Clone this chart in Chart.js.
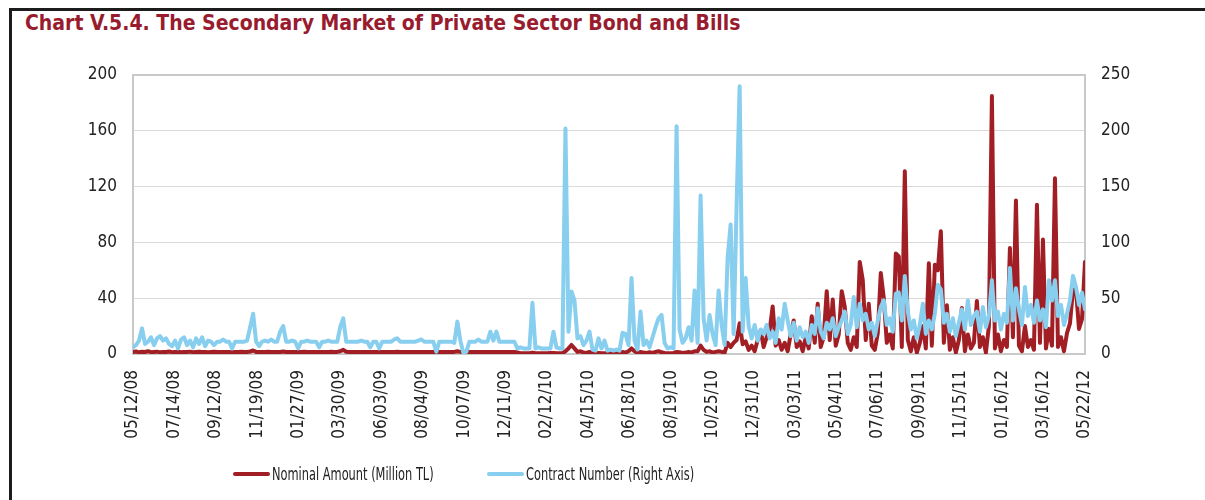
<!DOCTYPE html>
<html>
<head>
<meta charset="utf-8">
<title>Secondary Market of Private Sector Bond and Bills</title>
<script src="https://cdn.jsdelivr.net/npm/chart.js@4.4.1/dist/chart.umd.min.js"></script>
<style>
  html, body { margin: 0; padding: 0; background: #fff; }
  #page { position: relative; width: 1205px; height: 500px; overflow: hidden; }
  #frame {
    position: absolute; left: 9px; top: 8px; right: -10px; bottom: -10px;
    border-top: 3px solid #1c1c1c; border-left: 3px solid #1c1c1c;
  }
  #title {
    position: absolute; left: 25px; top: 11px; white-space: nowrap;
    font: bold 21px "DejaVu Sans Condensed", "DejaVu Sans", sans-serif;
    color: #981b2e;
  }
  #chart { position: absolute; left: 0; top: 0; }
  .legend-item {
    position: absolute; top: 463px; height: 22px;
    display: flex; align-items: center; white-space: nowrap;
    font: 17px "DejaVu Sans Condensed", "DejaVu Sans", sans-serif;
    color: #222;
  }
  .legend-item .swatch { width: 37px; height: 4px; margin-right: 2px; border-radius: 2px; }
  .legend-item .text { display: inline-block; transform: scaleX(0.745); transform-origin: left center; }
</style>
</head>
<body>
<div id="page">
  <div id="frame"></div>
  <div id="title">Chart V.5.4. The Secondary Market of Private Sector Bond and Bills</div>
  <canvas id="chart" width="1205" height="500"></canvas>
  <div class="legend-item" style="left:233px"><span class="swatch" style="background:#a11f24"></span><span class="text">Nominal Amount (Million TL)</span></div>
  <div class="legend-item" style="left:487px"><span class="swatch" style="background:#87ceef"></span><span class="text">Contract Number (Right Axis)</span></div>
</div>
<script>
// ----- Date labels shown along the bottom axis -----
const tickLabels = [
  "05/12/08", "07/14/08", "09/12/08", "11/19/08", "01/27/09", "03/30/09",
  "06/03/09", "08/04/09", "10/07/09", "12/11/09", "02/12/10", "04/15/10",
  "06/18/10", "08/19/10", "10/25/10", "12/31/10", "03/03/11", "05/04/11",
  "07/06/11", "09/09/11", "11/15/11", "01/16/12", "03/16/12", "05/22/12"
];

// ----- Nominal amount, million TL (left axis) -----
const nominal = [
  1.5, 1.8, 1.2, 1.6, 1.4, 2, 1.3, 1.5, 1.7, 1.2,
  1.5, 1.4, 1.8, 1.3, 1.5, 1.6, 1.2, 1.5, 1.4, 1.7,
  1.3, 1.5, 1.6, 1.4, 1.5, 1.3, 1.5, 1.6, 1.4, 1.5,
  1.5, 1.4, 1.5, 1.3, 1.5, 1.5, 1.6, 1.4, 1.5, 1.8,
  2.5, 1.5, 1.4, 1.5, 1.5, 1.6, 1.5, 1.4, 1.5, 1.5,
  1.8, 1.5, 1.5, 1.4, 1.5, 1.5, 1.5, 1.6, 1.5, 1.5,
  1.5, 1.4, 1.5, 1.5, 1.5, 1.5, 1.6, 1.5, 1.5, 2,
  3, 1.6, 1.5, 1.5, 1.5, 1.5, 1.5, 1.5, 1.4, 1.5,
  1.5, 1.5, 1.5, 1.5, 1.5, 1.5, 1.5, 1.5, 1.6, 1.5,
  1.5, 1.5, 1.5, 1.5, 1.5, 1.5, 1.5, 1.5, 1.5, 1.5,
  1.5, 1.5, 1.5, 1.5, 1.5, 1.5, 1.5, 1.5, 2, 1.5,
  1.5, 1.5, 1.5, 1.5, 1.5, 1.5, 1.5, 1.5, 1.5, 1.5,
  1.5, 1.5, 1.5, 1.5, 1.5, 1.5, 1.5, 1.5, 1.2,
  0.6, 0.5, 0.5, 0.6, 1, 0.5, 0.5, 0.6, 0.5, 0.5, 0.7,
  0.8, 0.5, 0.5, 0.6, 2, 4, 6.5, 4, 1.5, 2,
  1, 0.8, 1.5, 0.5, 0.5, 0.8, 0.5, 0.6, 0.5, 0.5,
  0.6, 0.5, 0.8, 1.5, 1, 2, 4, 2, 0.8, 1.5,
  1, 0.8, 1.2, 0.8, 1.5, 2, 1.2, 0.8, 0.6, 0.5,
  0.6, 1.5, 1.2, 0.8, 1, 1.5, 1, 2, 2, 6,
  3, 1.5, 2, 1, 1.5, 2, 1.5, 1, 8, 5,
  8, 10, 22, 7, 9, 3, 6, 2, 10, 17,
  5, 12, 17, 34, 6, 10, 3, 8, 2, 14,
  24, 5, 9, 2, 12, 4, 27, 8, 36, 5,
  12, 45, 10, 39, 6, 14, 45, 34, 8, 3,
  12, 5, 66, 53, 10, 36, 6, 3, 15, 58,
  40, 8, 14, 4, 72, 70, 5, 131, 10, 2,
  12, 1, 8, 20, 4, 65, 6, 64, 60, 88,
  8, 35, 3, 12, 1, 10, 33, 2, 14, 4,
  8, 38, 5, 12, 1, 20, 185, 4, 14, 2,
  10, 5, 76, 12, 110, 6, 2, 20, 5, 10,
  3, 107, 8, 82, 4, 18, 6, 126, 5, 12,
  2, 15, 22, 46, 46, 18, 25, 66
];

// ----- Contract number (right axis) -----
const contracts = [
  6, 8, 12, 23, 9, 11, 15, 8, 14, 16,
  12, 14, 9, 7, 12, 5, 13, 15, 8, 12,
  6, 14, 9, 15, 7, 12, 11, 8, 11, 11,
  13, 11, 11, 5, 11, 11, 11, 11, 12, 24,
  36, 11, 7, 11, 12, 11, 13, 11, 11, 20,
  25, 11, 11, 12, 11, 5, 11, 11, 12, 11,
  11, 11, 6, 11, 11, 12, 11, 11, 11, 24,
  32, 11, 11, 11, 11, 11, 12, 11, 11, 6,
  11, 11, 5, 11, 11, 11, 11, 13, 14, 11,
  11, 11, 11, 11, 11, 12, 13, 11, 11, 11,
  11, 2, 11, 11, 11, 11, 11, 10, 29, 12,
  1, 2, 11, 11, 11, 13, 11, 11, 11, 20,
  12, 20, 11, 11, 11, 11, 11, 11, 5, 6,
  5, 5, 5, 46, 5, 6, 5, 5, 5, 5,
  20, 6, 5, 5, 202, 20, 56, 48, 14, 16,
  8, 12, 20, 4, 3, 14, 5, 12, 3, 4,
  3, 4, 3, 19, 18, 8, 68, 12, 4, 38,
  8, 12, 6, 15, 24, 32, 35, 10, 5, 6,
  5, 204, 22, 10, 14, 24, 12, 57, 10, 142,
  32, 12, 35, 18, 8, 57, 26, 8, 86, 116,
  18, 134, 240, 20, 68, 25, 14, 26, 12, 22,
  18, 26, 14, 20, 10, 32, 22, 45, 30, 16,
  28, 12, 24, 15, 20, 10, 26, 18, 41, 20,
  14, 28, 22, 32, 16, 24, 30, 38, 18, 26,
  51, 24, 45, 30, 36, 22, 28, 16, 30, 42,
  48, 26, 32, 20, 54, 55, 30, 70, 38, 22,
  30, 14, 26, 45, 18, 30, 22, 36, 62, 58,
  28, 36, 20, 32, 16, 28, 40, 22, 48, 26,
  34, 38, 20, 42, 24, 34, 66, 30, 38, 22,
  36, 28, 77, 30, 59, 40, 26, 60, 34, 44,
  28, 48, 30, 40, 24, 66, 48, 66, 34, 44,
  26, 36, 48, 70, 60, 44, 55, 40
];

const RED = "#a11f24";
const BLUE = "#87ceef";
const TEXT = "#222";
const FONT = "'DejaVu Sans Condensed', 'DejaVu Sans', sans-serif";
const last = nominal.length - 1;

// grey box around the plot area, under the lines
const plotFrame = {
  id: "plotFrame",
  beforeDatasetsDraw(chart) {
    const { ctx, chartArea: a } = chart;
    ctx.save();
    ctx.strokeStyle = "#c9c9c9";
    ctx.lineWidth = 2;
    ctx.strokeRect(a.left, a.top, a.right - a.left, a.bottom - a.top);
    ctx.restore();
  }
};

const toPoints = arr => arr.map((v, i) => ({ x: i, y: v }));

new Chart(document.getElementById("chart"), {
  type: "line",
  data: {
    datasets: [
      {
        label: "Nominal Amount (Million TL)",
        data: toPoints(nominal),
        borderColor: RED,
        borderWidth: 4,
        yAxisID: "y",
        order: 1
      },
      {
        label: "Contract Number (Right Axis)",
        data: toPoints(contracts),
        borderColor: BLUE,
        borderWidth: 4,
        yAxisID: "y1",
        order: 0
      }
    ]
  },
  options: {
    responsive: false,
    animation: false,
    layout: { padding: { top: 75 } },
    elements: {
      point: { radius: 0 },
      line: { tension: 0, borderJoinStyle: "round", borderCapStyle: "round" }
    },
    plugins: { legend: { display: false }, tooltip: { enabled: false } },
    scales: {
      x: {
        type: "linear",
        min: 0,
        max: last,
        grid: { display: false, drawTicks: false },
        border: { display: false },
        afterFit: s => { s.height = 146; },
        // one date label every 1/23 of the range, first and last at the ends
        afterBuildTicks: s => {
          s.ticks = tickLabels.map((_, i) => ({ value: i * last / (tickLabels.length - 1) }));
        },
        ticks: {
          autoSkip: false,
          minRotation: 90,
          maxRotation: 90,
          padding: 16,
          color: TEXT,
          font: { family: FONT, size: 17 },
          callback: (v, i) => tickLabels[i]
        }
      },
      y: {
        position: "left",
        min: 0,
        max: 200,
        afterFit: s => { s.width = 133; },
        grid: { color: "#d9d9d9", lineWidth: 1, drawTicks: false },
        border: { display: false },
        ticks: { stepSize: 40, padding: 16, color: TEXT, font: { family: FONT, size: 17 } }
      },
      y1: {
        position: "right",
        min: 0,
        max: 250,
        afterFit: s => { s.width = 120; },
        grid: { drawOnChartArea: false, drawTicks: false },
        border: { display: false },
        ticks: { stepSize: 50, padding: 16, color: TEXT, font: { family: FONT, size: 17 } }
      }
    }
  },
  plugins: [plotFrame]
});
</script>
</body>
</html>
